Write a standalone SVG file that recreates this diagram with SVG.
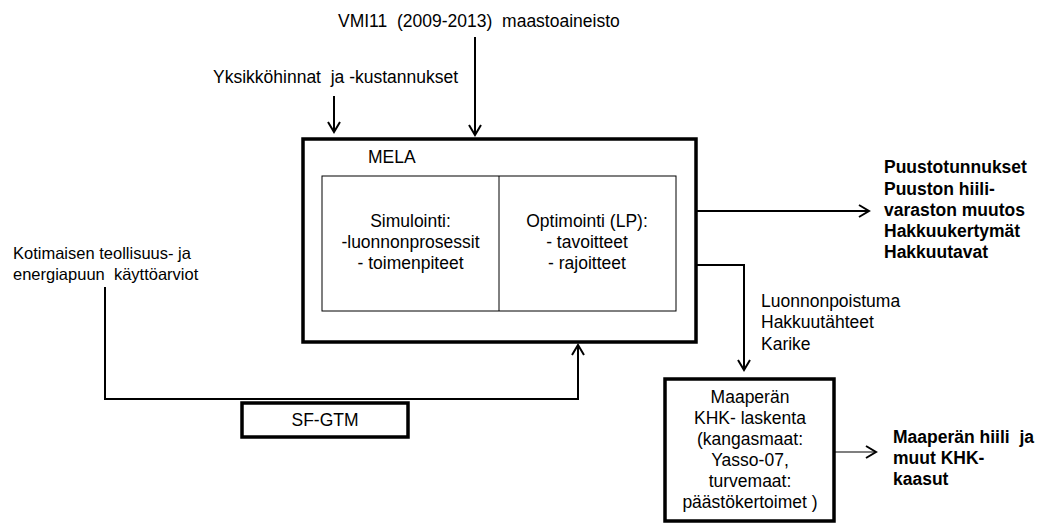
<svg xmlns="http://www.w3.org/2000/svg" width="1046" height="523" viewBox="0 0 1046 523">
<style>
text { font-family: "Liberation Sans", Arial, sans-serif; font-size: 17.5px; fill: #000; white-space: pre; }
.b { font-weight: bold; }
.c { text-anchor: middle; }
.thick { fill: none; stroke: #000; stroke-width: 3.5; }
.thin { fill: none; stroke: #000; stroke-width: 1; }
.con { fill: none; stroke: #000; stroke-width: 2; }
.con1 { fill: none; stroke: #000; stroke-width: 1.2; }
</style>
<defs>
<marker id="arr" markerUnits="userSpaceOnUse" markerWidth="16" markerHeight="16" viewBox="-12 -8 14 16" refX="0" refY="0" orient="auto">
<path d="M-10,-6 L0,0 L-10,6" fill="none" stroke="#000" stroke-width="2"/>
</marker>
</defs>
<rect width="1046" height="523" fill="#fff"/>

<g id="label-vmi">
<text x="338" y="27">VMI11  (2009-2013)  maastoaineisto</text>
</g>
<g id="label-yksikko">
<text x="213" y="83">Yksikköhinnat  ja -kustannukset</text>
</g>
<g id="label-kotimaisen">
<text x="13" y="259" style="font-size:16.5px">Kotimaisen teollisuus- ja</text>
<text x="13" y="280" style="font-size:16.5px">energiapuun  käyttöarviot</text>
</g>

<g id="mela">
<rect class="thick" x="303" y="139" width="393" height="203"/>
<text x="368" y="163">MELA</text>
<rect class="thin" x="322" y="176" width="354" height="135"/>
<line class="thin" x1="499" y1="176" x2="499" y2="311"/>
<text class="c" x="410.5" y="227">Simulointi:</text>
<text class="c" x="410.5" y="248">-luonnonprosessit</text>
<text class="c" x="410.5" y="269">- toimenpiteet</text>
<text class="c" x="587" y="227">Optimointi (LP):</text>
<text class="c" x="587" y="248">- tavoitteet</text>
<text class="c" x="587" y="269">- rajoitteet</text>
</g>

<g id="sfgtm">
<rect class="thick" x="242" y="403" width="166" height="34"/>
<text class="c" x="325" y="426">SF-GTM</text>
</g>

<g id="maaperan">
<rect class="thick" x="665" y="379" width="169" height="142"/>
<text class="c" x="750" y="403">Maaperän</text>
<text class="c" x="750" y="424">KHK- laskenta</text>
<text class="c" x="750" y="445">(kangasmaat:</text>
<text class="c" x="750" y="466">Yasso-07,</text>
<text class="c" x="750" y="487">turvemaat:</text>
<text class="c" x="750" y="508">päästökertoimet )</text>
</g>

<g id="out-puusto">
<text class="b" x="884" y="173">Puustotunnukset</text>
<text class="b" x="884" y="195">Puuston hiili-</text>
<text class="b" x="884" y="216">varaston muutos</text>
<text class="b" x="884" y="237">Hakkuukertymät</text>
<text class="b" x="884" y="258">Hakkuutavat</text>
</g>

<g id="label-luonnon">
<text x="761" y="307">Luonnonpoistuma</text>
<text x="761" y="328">Hakkuutähteet</text>
<text x="761" y="350">Karike</text>
</g>

<g id="out-maaperan">
<text class="b" x="893" y="443">Maaperän hiili  ja</text>
<text class="b" x="893" y="464">muut KHK-</text>
<text class="b" x="893" y="485">kaasut</text>
</g>

<g id="connectors">
<line class="con" x1="475" y1="37" x2="475" y2="135" marker-end="url(#arr)"/>
<line class="con" x1="334" y1="96" x2="334" y2="132" marker-end="url(#arr)"/>
<line class="con" x1="696" y1="211" x2="869" y2="211" marker-end="url(#arr)"/>
<polyline class="con" points="696,265 744,265 744,370" marker-end="url(#arr)"/>
<polyline class="con" points="105,287 105,399 578,399 578,345" marker-end="url(#arr)"/>
<line class="con1" x1="834" y1="452" x2="876" y2="452" marker-end="url(#arr)"/>
</g>
</svg>
